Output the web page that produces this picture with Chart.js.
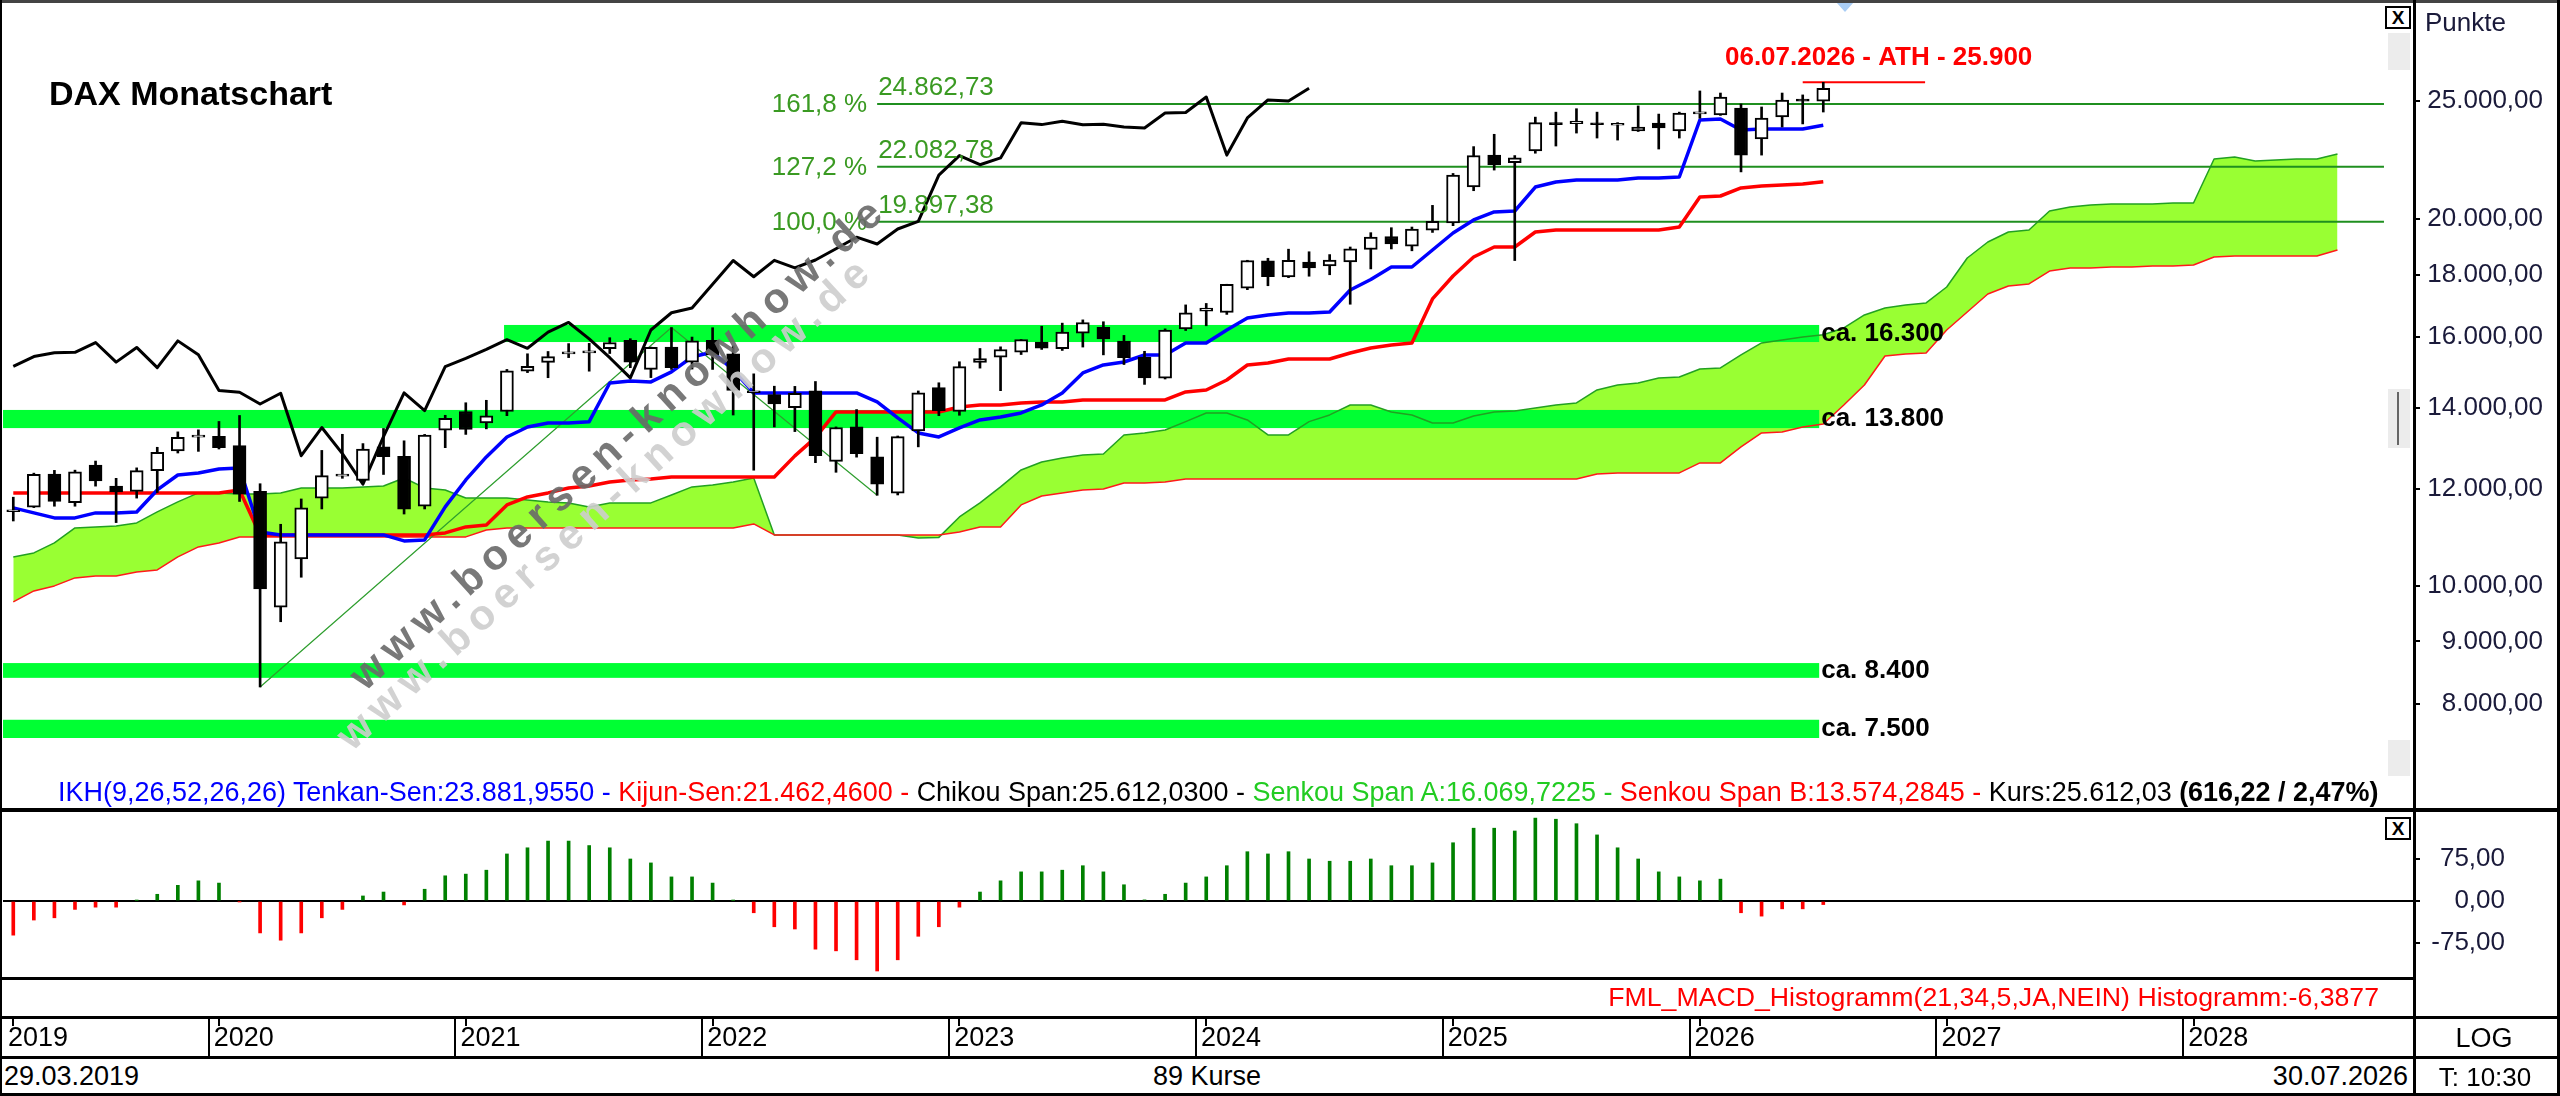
<!DOCTYPE html>
<html lang="de">
<head>
<meta charset="utf-8">
<title>DAX Monatschart</title>
<script src="https://cdn.jsdelivr.net/npm/chart.js@4.4.1/dist/chart.umd.min.js"></script>
<style>
  html, body { margin: 0; padding: 0; background: #fff; }
  body { position: relative; width: 2560px; height: 1096px; overflow: hidden;
         font-family: "Liberation Sans", Arial, sans-serif; color: #000; }
  canvas { position: absolute; left: 0; }
  #main { top: 0; }
  #macd { top: 812px; }
  .ln { position: absolute; background: #000; }
  .t { position: absolute; white-space: nowrap; line-height: 1; transform: translateY(-50%); }
  .btn { position: absolute; width: 22px; height: 19px; border: 2px solid #000; background: #fff;
         font: bold 19px/19px "Liberation Sans", Arial, sans-serif; text-align: center; }
  .sb { position: absolute; background: #ececec; }
</style>
</head>
<body>
<canvas id="main" width="2560" height="806"></canvas>
<canvas id="macd" width="2560" height="245"></canvas>

<div class="t" style="left:49px;top:93px;font-weight:bold;font-size:34px">DAX Monatschart</div>
<div class="t" style="left:2425px;top:22px;font-size:26px;color:#1a1a3a">Punkte</div>

<div id="legend" class="t" style="left:58px;top:792px;font-size:25px">
  <span style="color:#0000ff">IKH(9,26,52,26,26) Tenkan-Sen:23.881,9550 - </span><span style="color:#ff0000">Kijun-Sen:21.462,4600 - </span><span>Chikou Span:25.612,0300 - </span><span style="color:#22cc22">Senkou Span A:16.069,7225 - </span><span style="color:#ff0000">Senkou Span B:13.574,2845 - </span><span>Kurs:25.612,03 <b>(616,22 / 2,47%)</b></span>
</div>
<div id="macdLabel" class="t" style="right:181px;top:997px;font-size:26px;color:#ff0000">FML_MACD_Histogramm(21,34,5,JA,NEIN) Histogramm:-6,3877</div>

<div class="t" style="left:4px;top:1076px;font-size:27px">29.03.2019</div>
<div class="t" style="left:1207px;top:1076px;font-size:27px;transform:translate(-50%,-50%)">89 Kurse</div>
<div class="t" style="right:152px;top:1076px;font-size:27px">30.07.2026</div>
<div class="t" style="left:2484px;top:1038px;font-size:27px;transform:translate(-50%,-50%)">LOG</div>
<div class="t" style="left:2485px;top:1077px;font-size:26px;transform:translate(-50%,-50%)">T: 10:30</div>

<div class="sb" style="left:2388px;top:33px;width:22px;height:37px"></div>
<div class="sb" style="left:2388px;top:389px;width:22px;height:59px"></div>
<div class="ln" style="left:2397px;top:392px;width:2px;height:53px;background:#666"></div>
<div class="sb" style="left:2388px;top:740px;width:22px;height:36px"></div>
<div class="btn" style="left:2385px;top:6px">X</div>
<div class="btn" style="left:2385px;top:817px">X</div>
<div style="position:absolute;left:1836px;top:2px;width:0;height:0;border-left:9px solid transparent;border-right:9px solid transparent;border-top:10px solid #a9cdf5"></div>

<div class="ln" style="left:0;top:0;width:2560px;height:3px;background:#444"></div>
<div class="ln" style="left:0;top:0;width:2px;height:1096px"></div>
<div class="ln" style="left:2413px;top:0;width:3px;height:1096px"></div>
<div class="ln" style="left:2557px;top:0;width:3px;height:1096px"></div>
<div class="ln" style="left:0;top:808px;width:2560px;height:4px"></div>
<div class="ln" style="left:0;top:977px;width:2416px;height:3px"></div>
<div class="ln" style="left:0;top:1016px;width:2560px;height:3px"></div>
<div class="ln" style="left:0;top:1056px;width:2560px;height:3px"></div>
<div class="ln" style="left:0;top:1093px;width:2560px;height:3px"></div>

<script>
// monthly bars, 29.03.2019 .. 30.07.2026 (89 Kurse)
const OPEN = [
  11500, 11600, 12350, 11700, 12560, 12070, 11950, 12430, 12900, 13240,
  13260, 13030, 11950, 9600, 10520, 11800, 12300, 12200, 13000, 12770,
  11620, 13420, 13900, 13600, 13900, 15000, 15250, 15500, 15530, 15650,
  15900, 15050, 15700, 15260, 15900, 15500, 14400, 14350, 14000, 14450,
  12650, 13500, 12760, 11910, 13400, 14540, 13900, 15250, 15400, 15550,
  15850, 15650, 16120, 16300, 15880, 15400, 14800, 16250, 16800, 16760,
  17550, 18480, 17930, 18440, 18300, 18440, 18880, 19350, 19000, 19580,
  19850, 21250, 22570, 22250, 22750, 23950, 23950, 23950, 23880, 23620,
  23980, 23620, 24400, 24350, 24670, 23270, 24255, 25050, 24996
];
const HIGH = [
  11820, 12370, 12435, 12440, 12656, 12250, 12494, 12990, 13374, 13425,
  13640, 13795, 12125, 11230, 11781, 12913, 13313, 13081, 13460, 13150,
  13310, 13800, 14131, 14197, 15050, 15502, 15569, 15803, 15810, 15980,
  15950, 15700, 16290, 16000, 16285, 15736, 14925, 14580, 14575, 14710,
  13500, 13950, 13240, 13270, 14450, 14675, 15270, 15658, 15707, 15925,
  16331, 16427, 16528, 16470, 16050, 15575, 16250, 17003, 17050, 17680,
  18500, 18570, 18892, 18800, 18700, 18970, 19491, 19675, 19700, 20523,
  21800, 22935, 23476, 22550, 24250, 24479, 24639, 24480, 24000, 24770,
  24390, 24480, 25480, 25380, 24860, 24720, 25380, 25290, 25900
];
const LOW = [
  11300, 11590, 11620, 11620, 12070, 11266, 11800, 11925, 12850, 12890,
  12948, 11725, 8256, 9340, 10160, 11560, 12250, 12150, 12339, 11450,
  11560, 12980, 13310, 13450, 13790, 14960, 14816, 15390, 15000, 15510,
  15100, 14819, 15050, 15060, 15050, 13807, 12439, 13500, 13381, 12618,
  12390, 12750, 11863, 11870, 13000, 13791, 13800, 15087, 14458, 15480,
  15630, 15600, 15700, 15470, 15190, 14630, 14780, 16200, 16345, 16700,
  17500, 17630, 17900, 17950, 18000, 17024, 18200, 18900, 18834, 19500,
  19750, 21100, 21940, 18490, 22650, 22960, 23530, 23310, 23220, 23600,
  22830, 23310, 24200, 24330, 21864, 22570, 23800, 23940, 24485
];
const CLOSE = [
  11530, 12344, 11727, 12399, 12189, 11939, 12428, 12867, 13236, 13249,
  12982, 11890, 9936, 10862, 11587, 12311, 12313, 12945, 12761, 11556,
  13291, 13719, 13433, 13786, 15008, 15136, 15421, 15531, 15544, 15835,
  15260, 15689, 15100, 15885, 15471, 14461, 14415, 14098, 14388, 12784,
  13484, 12835, 12114, 13254, 14397, 13924, 15128, 15365, 15629, 15922,
  15664, 16148, 16447, 15947, 15387, 14810, 16215, 16752, 16904, 17678,
  18492, 17932, 18498, 18235, 18509, 18907, 19325, 19078, 19626, 19909,
  21732, 22551, 22163, 22450, 23997, 23909, 24065, 23902, 23930, 23800,
  23760, 24440, 24460, 25190, 22570, 24210, 25050, 24995.81, 25612.03
];

// Ichimoku lines (IKH 9,26,52,26,26)
const TENKAN = [
  11583, 11474, 11366, 11366, 11474, 11474, 11495, 11983, 12327, 12375,
  12469, 12493, 11069, 11006, 11006, 11006, 11006, 11006, 11006, 10882,
  10903, 11605, 12212, 12755, 13246, 13499, 13601, 13601, 13635, 14670,
  14726, 14698, 14982, 15409, 15555, 15039, 14395, 14395, 14395, 14395,
  14395, 14395, 14152, 13731, 13347, 13246, 13473, 13679, 13756, 13861,
  14072, 14395, 14949, 15177, 15263, 15467, 15467, 15822, 15822, 16215,
  16587, 16682, 16745, 16745, 16777, 17489, 17838, 18266, 18266, 18863,
  19479, 19964, 20268, 20306, 21247, 21451, 21532, 21532, 21532, 21614,
  21614, 21655, 24118, 24164, 23666, 23711, 23711, 23711, 23881.955
];
const KIJUN = [
  11916, 11916, 11916, 11916, 11916, 11916, 11916, 11916, 11916, 11916,
  11916, 11983, 11006, 11006, 11006, 11006, 11006, 11006, 11006, 11006,
  11006, 11048, 11174, 11217, 11649, 11826, 11916, 12029, 12074, 12166,
  12212, 12235, 12281, 12281, 12281, 12281, 12281, 12281, 12780, 13230,
  13887, 13887, 13887, 13887, 13887, 13887, 14019, 14072, 14072, 14125,
  14152, 14152, 14206, 14206, 14206, 14206, 14206, 14422, 14477, 14753,
  15177, 15235, 15351, 15351, 15351, 15525, 15673, 15762, 15822, 17195,
  17958, 18615, 18970, 18970, 19516, 19589, 19589, 19589, 19589, 19589,
  19589, 19701, 20851, 20890, 21209, 21289, 21330, 21370, 21462.46
];
const SENKOU_A = [
  10558, 10638, 10841, 11153, 11174, 11195, 11259, 11495, 11715, 11916,
  11916, 11893, 11893, 11916, 12029, 12029, 12029, 12052, 12074, 12258,
  12029, 11983, 11803, 11803, 11803, 11759, 11715, 11693, 11605, 11693,
  11693, 11693, 11870, 12052, 12097, 12166, 12258, 11006, 11006, 11006,
  11006, 11006, 11006, 11006, 10944, 10955, 11387, 11693, 12052, 12445,
  12635, 12731, 12803, 12827, 13296, 13347, 13422, 13635, 13861, 13861,
  13679, 13296, 13296, 13635, 13809, 14072, 14072, 13887, 13809, 13601,
  13601, 13783, 13887, 13914, 13993, 14072, 14125, 14477, 14614, 14670,
  14809, 14836, 15063, 15091, 15467, 15822, 15911, 16002, 16069.72, 16277,
  16682, 16904, 17001, 17066, 17589, 18580, 19150, 19516, 19589, 20306,
  20460, 20538, 20577, 20577, 20577, 20616, 20616, 22404, 22488, 22320,
  22362, 22404, 22404, 22616
];
const SENKOU_B = [
  9697, 9901, 9995, 10147, 10185, 10185, 10263, 10302, 10558, 10759,
  10841, 10965, 10965, 10965, 10965, 10965, 10965, 10965, 10965, 10965,
  10965, 10965, 10965, 11111, 11153, 11153, 11153, 11153, 11153, 11153,
  11153, 11153, 11153, 11153, 11153, 11153, 11238, 11006, 11006, 11006,
  11006, 11006, 11006, 11006, 11006, 11006, 11069, 11174, 11174, 11649,
  11848, 11916, 11983, 12006, 12143, 12143, 12166, 12235, 12235, 12235,
  12235, 12235, 12235, 12235, 12235, 12235, 12235, 12235, 12235, 12235,
  12235, 12235, 12235, 12235, 12235, 12235, 12235, 12351, 12375, 12375,
  12375, 12375, 12611, 12611, 12998, 13347, 13373, 13499, 13574.28, 14072,
  14614, 15437, 15497, 15525, 16215, 16777, 17357, 17622, 17689, 18128,
  18232, 18232, 18266, 18266, 18300, 18300, 18335, 18615, 18650, 18650,
  18650, 18650, 18650, 18863
];
const CHIKOU_SHIFT = 25;

// FML_MACD_Histogramm(21,34,5)
const MACD_HIST = [
  -61, -34, -30, -15, -11, -11, 1, 12, 28, 36,
  32, -1, -57, -70, -57, -30, -15, 9, 16, -7,
  21, 45, 48, 55, 84, 95, 107, 107, 99, 95,
  75, 68, 43, 43, 32, 1, -21, -46, -50, -86,
  -89, -105, -125, -105, -63, -46, -11, 16, 36, 52,
  52, 55, 63, 52, 29, 2, 12, 32, 43, 63,
  88, 84, 88, 75, 71, 71, 75, 63, 63, 68,
  104, 130, 130, 125, 148, 146, 138, 118, 95, 75,
  52, 43, 36, 39, -21, -27, -14, -14, -6.3877
];

const Y_TICKS = [8000, 9000, 10000, 12000, 14000, 16000, 18000, 20000, 25000];
const MACD_TICKS = [-75, 0, 75];
const YEAR_LABELS = ['2019', '2020', '2021', '2022', '2023', '2024', '2025', '2026', '2027', '2028'];
const YEAR_START_BARS = [0, 10, 22, 34, 46, 58, 70, 82, 94, 106];

// Fibonacci extension from 8.255,65 / 16.290,4 / 11.862,8
const TREND_X = [12, 32, 42];
const TREND_Y = [8255.65, 16290.4, 11862.8];
const FIB_LEVELS = ['161,8 %', '127,2 %', '100,0 %'];
const FIB_VALUES = [24862.73, 22082.78, 19897.38];

const ZONE_LABELS = ['ca. 16.300', 'ca. 13.800', 'ca. 8.400', 'ca. 7.500'];
const ZONE_LOW = [15850, 13470, 8400, 7497];
const ZONE_HIGH = [16370, 13940, 8638, 7760];
const ZONE_FROM = [23.86, -0.5, -0.5, -0.5];

const ATH_TEXT = '06.07.2026 - ATH - 25.900';
const ATH_VALUE = 25900;

// axis ranges and anchors
const X_MIN = -0.5, X_MAX = 116.72;
const Y_MIN = 6630, Y_MAX = 30090;
const MACD_MIN = -135.7, MACD_MAX = 158.9;
const FIB_FROM = 42, FIB_TO = 115.26;
const ZONE_TO = 87.8;
const ATH_FROM = 87, ATH_TO = 92.95;
const ATH_LABEL_X = 83.22, ATH_LABEL_Y = 27120;

const FONT = '"Liberation Sans", Arial, sans-serif';
const AXIS_SPACE = 146;          // right column, 2414..2560
const MAIN_LABEL_RIGHT = 17;     // main labels end at 2543
const MACD_LABEL_RIGHT = 55;     // MACD labels end at 2505

function fmtDE(v, d) {
  const neg = v < 0;
  const parts = Math.abs(v).toFixed(d).split('.');
  const int = parts[0].replace(/\B(?=(\d{3})+(?!\d))/g, '.');
  return (neg ? '-' : '') + int + (d ? ',' + parts[1] : '');
}

const xy = (arr) => arr.map((v, i) => ({ x: i, y: v }));

function lineSet(data, color, width, order, extra) {
  return Object.assign({
    type: 'line', data, borderColor: color, borderWidth: width,
    pointRadius: 0, tension: 0, fill: false, order, borderJoinStyle: 'round'
  }, extra || {});
}

const zonePlugin = {
  id: 'zones',
  beforeDatasetsDraw(chart) {
    const { ctx, scales: { x, y } } = chart;
    ctx.save();
    ctx.fillStyle = '#00ff33';
    ZONE_LOW.forEach((lo, k) => {
      const x0 = x.getPixelForValue(ZONE_FROM[k]);
      const x1 = x.getPixelForValue(ZONE_TO);
      const y0 = y.getPixelForValue(ZONE_HIGH[k]);
      const y1 = y.getPixelForValue(lo);
      ctx.fillRect(x0, y0, x1 - x0, y1 - y0);
    });
    ctx.restore();
  }
};

function drawMark(ctx, px, py, color) {
  ctx.save();
  ctx.translate(px, py);
  ctx.rotate(-42.4 * Math.PI / 180);
  ctx.font = 'bold 42px ' + FONT;
  ctx.letterSpacing = '8px';
  ctx.fillStyle = color;
  ctx.textAlign = 'left';
  ctx.textBaseline = 'alphabetic';
  ctx.fillText('www.boersen-knowhow.de', 0, 0);
  ctx.restore();
}

const labelPlugin = {
  id: 'labels',
  afterDatasetsDraw(chart) {
    const { ctx, scales: { x, y } } = chart;
    ctx.save();

    ctx.font = 'bold 26px ' + FONT;
    ctx.fillStyle = '#000';
    ctx.textAlign = 'left';
    ctx.textBaseline = 'middle';
    ZONE_LABELS.forEach((t, k) => {
      const cy = (y.getPixelForValue(ZONE_LOW[k]) + y.getPixelForValue(ZONE_HIGH[k])) / 2;
      ctx.fillText(t, x.getPixelForValue(ZONE_TO) + 2, cy);
    });

    ctx.font = '26px ' + FONT;
    ctx.fillStyle = '#3a9a22';
    FIB_VALUES.forEach((v, k) => {
      const py = y.getPixelForValue(v);
      const px = x.getPixelForValue(FIB_FROM);
      ctx.textAlign = 'right';
      ctx.textBaseline = 'middle';
      ctx.fillText(FIB_LEVELS[k], px - 10, py + 1);
      ctx.textAlign = 'left';
      ctx.textBaseline = 'alphabetic';
      ctx.fillText(fmtDE(v, 2), px + 1, py - 9);
    });

    ctx.font = 'bold 26px ' + FONT;
    ctx.fillStyle = '#ff0000';
    ctx.textAlign = 'left';
    ctx.textBaseline = 'middle';
    ctx.fillText(ATH_TEXT, x.getPixelForValue(ATH_LABEL_X), y.getPixelForValue(ATH_LABEL_Y));

    drawMark(ctx, 352, 752, 'rgba(205,205,205,0.9)');
    drawMark(ctx, 365, 692, 'rgba(105,105,105,0.9)');
    ctx.restore();
  }
};

new Chart(document.getElementById('main'), {
  type: 'bar',
  data: {
    datasets: [
      lineSet(xy(SENKOU_A), '#22a022', 1.5, 12, {
        fill: { target: '+1', above: '#99ff33', below: '#99ff33' }, backgroundColor: '#99ff33'
      }),
      lineSet(xy(SENKOU_B), '#ff1a1a', 1.5, 11),
      ...FIB_VALUES.map(v => lineSet([{ x: FIB_FROM, y: v }, { x: FIB_TO, y: v }], '#1f8f1f', 2, 10)),
      lineSet(TREND_X.map((tx, k) => ({ x: tx, y: TREND_Y[k] })), '#2e9e2e', 1.2, 7),
      lineSet([{ x: ATH_FROM, y: ATH_VALUE }, { x: ATH_TO, y: ATH_VALUE }], '#ff0000', 2, 6),
      lineSet(xy(KIJUN), '#ff0000', 3.5, 5),
      lineSet(xy(TENKAN), '#0000ff', 3.5, 4),
      lineSet(xy(CLOSE.slice(CHIKOU_SHIFT)), '#000000', 3, 3),
      {
        type: 'bar', order: 1, grouped: false, barThickness: 2,
        data: HIGH.map((h, i) => ({ x: i, y: [LOW[i], h] })),
        backgroundColor: '#000'
      },
      {
        type: 'bar', order: 0, grouped: false, barThickness: 13, minBarLength: 2,
        data: OPEN.map((o, i) => ({ x: i, y: [o, CLOSE[i]] })),
        backgroundColor: (c) => CLOSE[c.dataIndex] >= OPEN[c.dataIndex] ? '#ffffff' : '#000000',
        borderColor: '#000', borderWidth: 2, borderSkipped: false
      }
    ]
  },
  options: {
    responsive: false,
    animation: false,
    devicePixelRatio: 1,
    layout: { padding: { left: 3, top: 3, right: MAIN_LABEL_RIGHT, bottom: 3 } },
    plugins: {
      legend: { display: false },
      tooltip: { enabled: false },
      filler: { drawTime: 'beforeDatasetsDraw' }
    },
    scales: {
      x: { type: 'linear', min: X_MIN, max: X_MAX, offset: false, display: false },
      y: {
        type: 'logarithmic', position: 'right', min: Y_MIN, max: Y_MAX,
        afterBuildTicks: (s) => { s.ticks = Y_TICKS.map(v => ({ value: v })); },
        afterFit: (s) => { s.width = AXIS_SPACE - MAIN_LABEL_RIGHT; s.paddingTop = 0; s.paddingBottom = 0; },
        ticks: {
          autoSkip: false, padding: 7, crossAlign: 'far', color: '#1a1a3a',
          font: { size: 26, family: FONT },
          callback: (v) => fmtDE(v, 2)
        },
        grid: { drawOnChartArea: false, drawTicks: true, tickLength: 6, color: '#000', lineWidth: 2 },
        border: { display: true, color: '#000', width: 2 }
      }
    }
  },
  plugins: [zonePlugin, labelPlugin]
});

const datePlugin = {
  id: 'dates',
  afterDraw(chart) {
    const { ctx, scales: { x } } = chart;
    const top = 1017 - 812, bottom = 1057 - 812;
    ctx.save();
    ctx.strokeStyle = '#000';
    ctx.lineWidth = 2;
    YEAR_START_BARS.forEach((b, k) => {
      const edge = Math.round(x.getPixelForValue(b - 0.5));
      const mid = Math.round(x.getPixelForValue(b));
      ctx.beginPath();
      if (k > 0) { ctx.moveTo(edge, top); ctx.lineTo(edge, bottom); }
      ctx.moveTo(mid, top); ctx.lineTo(mid, top + 9);
      ctx.stroke();
    });
    ctx.restore();
  }
};

new Chart(document.getElementById('macd'), {
  type: 'bar',
  data: {
    datasets: [{
      data: MACD_HIST.map((v, i) => ({ x: i, y: v })),
      backgroundColor: (c) => MACD_HIST[c.dataIndex] >= 0 ? '#008000' : '#ff0000',
      barThickness: 3, grouped: false
    }]
  },
  options: {
    responsive: false,
    animation: false,
    devicePixelRatio: 1,
    layout: { padding: { left: 3, top: 0, right: MACD_LABEL_RIGHT, bottom: 0 } },
    plugins: { legend: { display: false }, tooltip: { enabled: false } },
    scales: {
      x: {
        type: 'linear', min: X_MIN, max: X_MAX, offset: false, position: 'bottom',
        afterBuildTicks: (s) => { s.ticks = YEAR_START_BARS.map(b => ({ value: b - 0.5 })); },
        afterFit: (s) => { s.height = 80; s.paddingLeft = 0; s.paddingRight = 0; },
        ticks: {
          autoSkip: false, maxRotation: 0, minRotation: 0, align: 'start', labelOffset: 5,
          padding: 45, color: '#000', font: { size: 27, family: FONT },
          callback: (v, i) => YEAR_LABELS[i]
        },
        grid: { display: false, drawTicks: false },
        border: { display: false }
      },
      y: {
        position: 'right', min: MACD_MIN, max: MACD_MAX,
        afterBuildTicks: (s) => { s.ticks = MACD_TICKS.map(v => ({ value: v })); },
        afterFit: (s) => { s.width = AXIS_SPACE - MACD_LABEL_RIGHT; s.paddingTop = 0; s.paddingBottom = 0; },
        ticks: {
          autoSkip: false, padding: 9, crossAlign: 'far', color: '#1a1a3a',
          font: { size: 26, family: FONT },
          callback: (v) => fmtDE(v, 2)
        },
        grid: {
          drawOnChartArea: true, drawTicks: true, tickLength: 6, lineWidth: 2, tickColor: '#000',
          color: (c) => (c.tick && c.tick.value === 0) ? '#000' : 'rgba(0,0,0,0)'
        },
        border: { display: true, color: '#000', width: 2 }
      }
    }
  },
  plugins: [datePlugin]
});

function fitWidth(id, target) {
  const el = document.getElementById(id);
  const size = parseFloat(el.style.fontSize);
  const w = el.getBoundingClientRect().width;
  if (w > 0) el.style.fontSize = (size * target / w).toFixed(2) + 'px';
}
fitWidth('legend', 2321);
fitWidth('macdLabel', 771);
</script>
</body>
</html>
